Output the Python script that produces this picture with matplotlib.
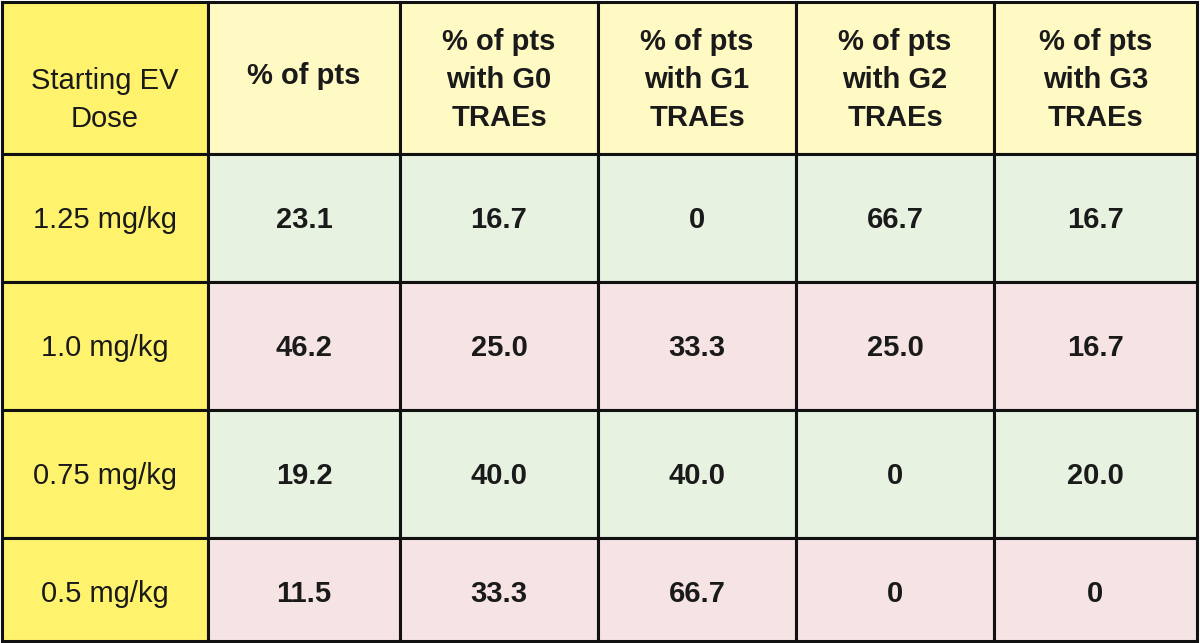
import matplotlib.pyplot as plt
from matplotlib.patches import Rectangle

headers = ["Starting EV\nDose", "% of pts", "% of pts\nwith G0\nTRAEs",
           "% of pts\nwith G1\nTRAEs", "% of pts\nwith G2\nTRAEs", "% of pts\nwith G3\nTRAEs"]
doses = ["1.25 mg/kg", "1.0 mg/kg", "0.75 mg/kg", "0.5 mg/kg"]
values = [
    ["23.1", "16.7", "0", "66.7", "16.7"],
    ["46.2", "25.0", "33.3", "25.0", "16.7"],
    ["19.2", "40.0", "40.0", "0", "20.0"],
    ["11.5", "33.3", "66.7", "0", "0"],
]
row_colors = ["#e7f2e1", "#f6e3e3", "#e7f2e1", "#f6e3e3"]

col_x = [2, 208, 400, 598, 796, 994, 1197]
row_y = [2, 154, 282, 410, 538, 641]

fig = plt.figure(figsize=(12, 6.43), dpi=100)
ax = fig.add_axes([0, 0, 1, 1])
ax.set_xlim(0, 1200)
ax.set_ylim(643, 0)
ax.axis("off")

def cell(c, r, color, text, bold, ty=None):
    x0, x1 = col_x[c], col_x[c + 1]
    y0, y1 = row_y[r], row_y[r + 1]
    ax.add_patch(Rectangle((x0, y0), x1 - x0, y1 - y0, facecolor=color,
                           edgecolor="#111111", linewidth=2.2))
    ax.text((x0 + x1) / 2, ty if ty else (y0 + y1) / 2 + 2, text, ha="center", va="center",
            fontsize=21, fontweight="bold" if bold else "normal",
            family=["Liberation Sans", "DejaVu Sans"], linespacing=1.45, color="#1a1a1a")

for c, h in enumerate(headers):
    ty = 100 if c == 0 else (76 if c == 1 else None)
    cell(c, 0, "#fff36e" if c == 0 else "#fffac4", h, c > 0, ty)
for r, d in enumerate(doses):
    ty = 594 if r == 3 else None
    cell(0, r + 1, "#fff36e", d, False, ty)
    for c, v in enumerate(values[r]):
        cell(c + 1, r + 1, row_colors[r], v, True, ty)

fig.savefig("out.png", dpi=100)
